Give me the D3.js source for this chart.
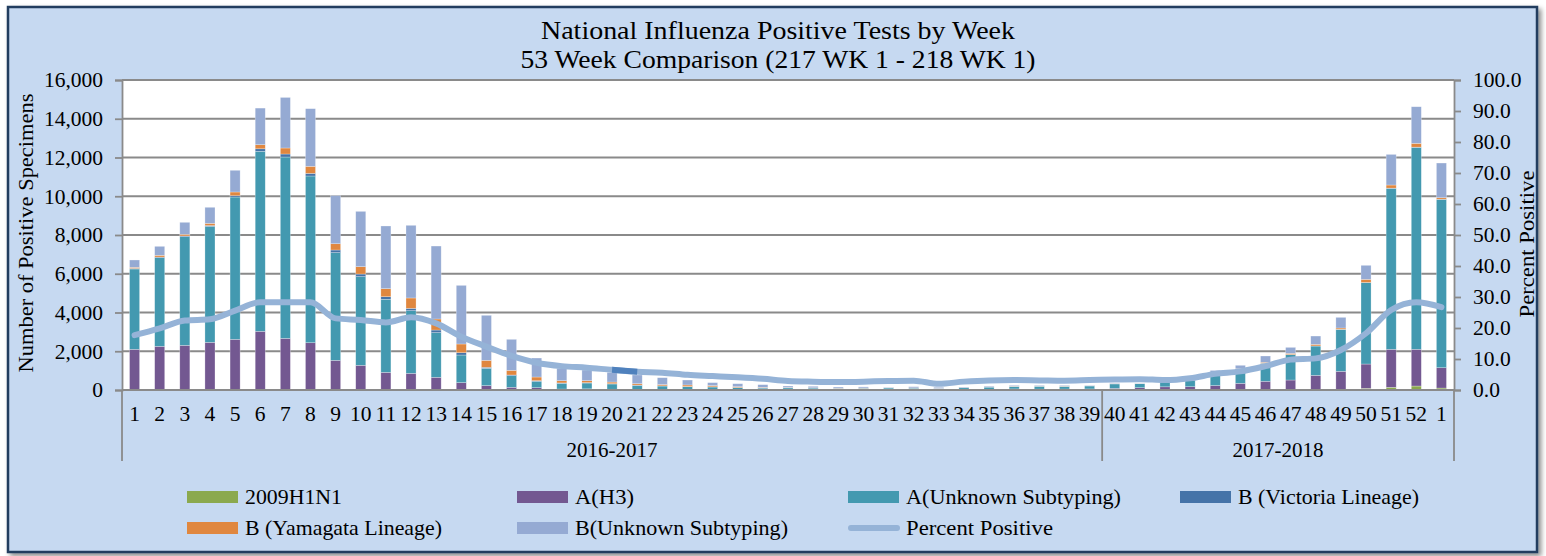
<!DOCTYPE html>
<html><head><meta charset="utf-8">
<script src="https://cdn.jsdelivr.net/npm/d3@7/dist/d3.min.js"></script>
<style>
body{margin:0;background:#fff;}
svg text{font-family:"Liberation Serif","Times New Roman",serif;fill:#000;}
</style>
</head><body>
<svg id="chart" width="1546" height="556"></svg>
<script>
// ---------- DATA ----------
const weekLabels = ["1","2","3","4","5","6","7","8","9","10","11","12","13","14","15","16","17","18","19","20",
  "21","22","23","24","25","26","27","28","29","30","31","32","33","34","35","36","37","38","39",
  "40","41","42","43","44","45","46","47","48","49","50","51","52","1"];
const seasonNames = ["2016-2017","2017-2018"];
const seasonSizes = [39, 14];
const seriesNames = ["2009H1N1","A(H3)","A(Unknown Subtyping)","B (Victoria Lineage)","B (Yamagata Lineage)","B(Unknown Subtyping)"];
const h1n1 = [15,15,15,15,15,20,20,25,15,15,10,10,10,5,5,5,5,5,5,5,5,5,5,5,5,5,5,5,5,5,5,5,5,5,5,5,5,5,5,5,5,5,5,5,10,10,10,10,15,85,140,205,100];
const aH3 = [2085,2240,2290,2445,2600,3010,2645,2415,1515,1260,900,850,645,375,220,135,115,45,55,35,30,25,20,20,15,15,15,15,10,10,15,15,10,15,20,50,40,45,50,80,115,160,165,225,335,440,505,745,950,1255,1960,1895,1050];
const aUnknown = [4145,4575,5610,5985,7345,9290,9360,8605,5560,4575,3770,3235,2305,1425,895,600,330,295,300,270,205,175,145,130,100,80,90,80,70,75,85,75,55,95,125,130,150,140,155,230,205,245,340,540,725,925,1310,1515,2165,4200,8310,10425,8690];
const bVictoria = [30,30,35,45,70,130,155,135,135,135,135,120,135,120,50,35,30,20,20,15,15,10,10,10,10,5,5,5,5,5,5,5,5,5,5,5,5,5,5,5,5,5,5,5,5,5,5,5,5,10,10,10,10];
const bYamagata = [55,90,85,110,190,210,310,365,325,380,415,535,570,450,360,240,190,115,100,85,70,65,80,60,40,30,15,10,10,10,5,10,5,5,10,10,5,10,5,10,5,5,10,15,20,50,60,80,65,160,160,195,75];
const bUnknown = [380,465,620,830,1120,1890,2610,2975,2480,2855,3235,3750,3765,3025,2325,1600,980,640,550,500,450,355,255,155,155,140,75,75,55,55,25,60,60,30,40,40,35,35,20,20,15,20,30,220,180,325,310,430,550,725,1580,1890,1790];
const percentPositive = [17.7,19.9,22.4,22.8,25.6,28.3,28.3,28.3,23.1,22.6,21.8,23.5,21.5,17.2,14.0,11.0,8.8,7.7,7.2,6.5,5.9,5.6,4.9,4.5,4.1,3.6,2.9,2.7,2.6,2.7,2.9,3.0,2.0,2.7,3.1,3.2,3.1,3.0,3.2,3.4,3.5,3.2,3.8,5.2,6.0,7.7,9.8,10.2,12.9,18.3,25.8,28.3,26.7];
const leftTicks = [0,2000,4000,6000,8000,10000,12000,14000,16000];
const rightTicks = [0,10,20,30,40,50,60,70,80,90,100];

// ---------- STYLE ----------
const colors = ["#8BA94E","#735891","#4399B0","#4573A8","#E0873F","#95AAD3"];
const lineColor = "#95B3D7";
const svg = d3.select("#chart");
const plot = {l:122, r:1454, t:80, b:390};

function fit(sel, w){ sel.attr("textLength", w).attr("lengthAdjust","spacingAndGlyphs"); return sel; }

const defs = svg.append("defs");
const f = defs.append("filter").attr("id","sh").attr("x","-2%").attr("y","-2%").attr("width","104%").attr("height","106%");
f.append("feDropShadow").attr("dx",3).attr("dy",3).attr("stdDeviation",2.5).attr("flood-color","#000").attr("flood-opacity",0.45);

svg.append("rect").attr("x",8).attr("y",7).attr("width",1529).attr("height",545)
  .attr("fill","#C6D9F1").attr("stroke","#233E5F").attr("stroke-width",2.5).attr("filter","url(#sh)");

const rows = weekLabels.map((w,i)=>({i, v:[h1n1[i],aH3[i],aUnknown[i],bVictoria[i],bYamagata[i],bUnknown[i]]}));
const x = d3.scaleBand().domain(d3.range(weekLabels.length)).range([plot.l,plot.r]).paddingInner(0.6).paddingOuter(0.3);
const y = d3.scaleLinear().domain([0,16000]).range([plot.b,plot.t]);
const y2 = d3.scaleLinear().domain([0,100]).range([plot.b,plot.t]);

svg.append("rect").attr("x",plot.l).attr("y",plot.t).attr("width",plot.r-plot.l).attr("height",plot.b-plot.t).attr("fill","#fff");

svg.append("g").selectAll("line").data(leftTicks.filter(d=>d>0)).join("line")
  .attr("x1",plot.l).attr("x2",plot.r).attr("y1",d=>y(d)).attr("y2",d=>y(d))
  .attr("stroke","#8A8A8A").attr("stroke-width",1.8);

const stack = d3.stack().keys(d3.range(6)).value((d,k)=>d.v[k]);
const layers = stack(rows);
svg.append("g").selectAll("g").data(layers).join("g").attr("fill",(d,k)=>colors[k])
  .selectAll("rect").data(d=>d).join("rect")
  .attr("x",d=>x(d.data.i)).attr("width",x.bandwidth())
  .attr("y",d=>y(d[1])).attr("height",d=>Math.max(0,y(d[0])-y(d[1])))
  .attr("stroke","rgba(255,255,255,0.45)").attr("stroke-width",0.6);

const lineGen = d3.line().x((d,i)=>x(i)+x.bandwidth()/2).y(d=>y2(d)).curve(d3.curveMonotoneX);
svg.append("path").datum(percentPositive).attr("d",lineGen).attr("fill","none")
  .attr("stroke",lineColor).attr("stroke-width",6).attr("stroke-linejoin","round").attr("stroke-linecap","round");
const segLine = d3.line().x(d=>x(d)+x.bandwidth()/2).y(d=>y2(percentPositive[d]));
svg.append("path").datum([19,20]).attr("d",segLine).attr("fill","none")
  .attr("stroke","#4F81BD").attr("stroke-width",6);

const axisColor = "#8A8A8A";
const gl = svg.append("g").attr("transform",`translate(${plot.l},0)`)
  .call(d3.axisLeft(y).tickValues(leftTicks).tickFormat(d3.format(",")).tickSize(7).tickPadding(12));
const gr = svg.append("g").attr("transform",`translate(${plot.r},0)`)
  .call(d3.axisRight(y2).tickValues(rightTicks).tickFormat(d3.format(".1f")).tickSize(7).tickPadding(12));
const gb = svg.append("g").attr("transform",`translate(0,${plot.b})`)
  .call(d3.axisBottom(x).tickFormat(i=>weekLabels[i]).tickSize(0).tickPadding(16));
[gl,gr,gb].forEach(g=>{
  g.selectAll("path.domain").attr("stroke",axisColor).attr("stroke-width",1.8);
  g.selectAll(".tick line").attr("stroke",axisColor).attr("stroke-width",1.8);
  g.selectAll("text").attr("font-size",21.5).attr("font-family","Liberation Serif").attr("fill","#000");
});
gb.select("path.domain").remove();
svg.append("line").attr("x1",plot.l).attr("x2",plot.r).attr("y1",plot.b).attr("y2",plot.b).attr("stroke",axisColor).attr("stroke-width",1.8);

let start = 0;
const bounds = [plot.l];
seasonSizes.forEach((n,k)=>{
  const endIdx = start + n - 1;
  const x0 = x(start) - x.step()*x.paddingInner()/2;
  const x1 = x(endIdx) + x.bandwidth() + x.step()*x.paddingInner()/2;
  bounds.push(x1);
  svg.append("text").attr("x",(x0+x1)/2).attr("y",457).attr("text-anchor","middle").attr("font-size",21).text(seasonNames[k]);
  start += n;
});
svg.append("g").selectAll("line").data(bounds).join("line")
  .attr("x1",d=>d).attr("x2",d=>d).attr("y1",plot.b).attr("y2",461)
  .attr("stroke",axisColor).attr("stroke-width",1.8);

fit(svg.append("text").attr("x",778).attr("y",39).attr("text-anchor","middle").attr("font-size",25.5).text("National Influenza Positive Tests by Week"),474);
fit(svg.append("text").attr("x",778).attr("y",68).attr("text-anchor","middle").attr("font-size",25.5).text("53 Week Comparison (217 WK 1 - 218 WK 1)"),515);
fit(svg.append("text").attr("transform","translate(33,233) rotate(-90)").attr("text-anchor","middle").attr("font-size",21).text("Number of Positive Specimens"),279);
fit(svg.append("text").attr("transform","translate(1534,244) rotate(-90)").attr("text-anchor","middle").attr("font-size",21).text("Percent Positive"),147);

const legendItems = seriesNames.map((n,k)=>({name:n, color:colors[k], type:"rect"}));
legendItems.push({name:"Percent Positive", color:lineColor, type:"line"});
const legX = [187,517,848,1180], legY = [497,528];
const legW = [97,59,215,181,197,213,147];
legendItems.forEach((it,k)=>{
  const cx = legX[k%4], cy = legY[Math.floor(k/4)];
  if(it.type==="rect"){
    svg.append("rect").attr("x",cx).attr("y",cy-6).attr("width",51).attr("height",12).attr("fill",it.color);
  } else {
    svg.append("line").attr("x1",cx+3).attr("x2",cx+49).attr("y1",cy).attr("y2",cy).attr("stroke",it.color).attr("stroke-width",6).attr("stroke-linecap","round");
  }
  fit(svg.append("text").attr("x",cx+58).attr("y",cy+7).attr("font-size",21).text(it.name), legW[k]);
});
</script>
</body></html>
